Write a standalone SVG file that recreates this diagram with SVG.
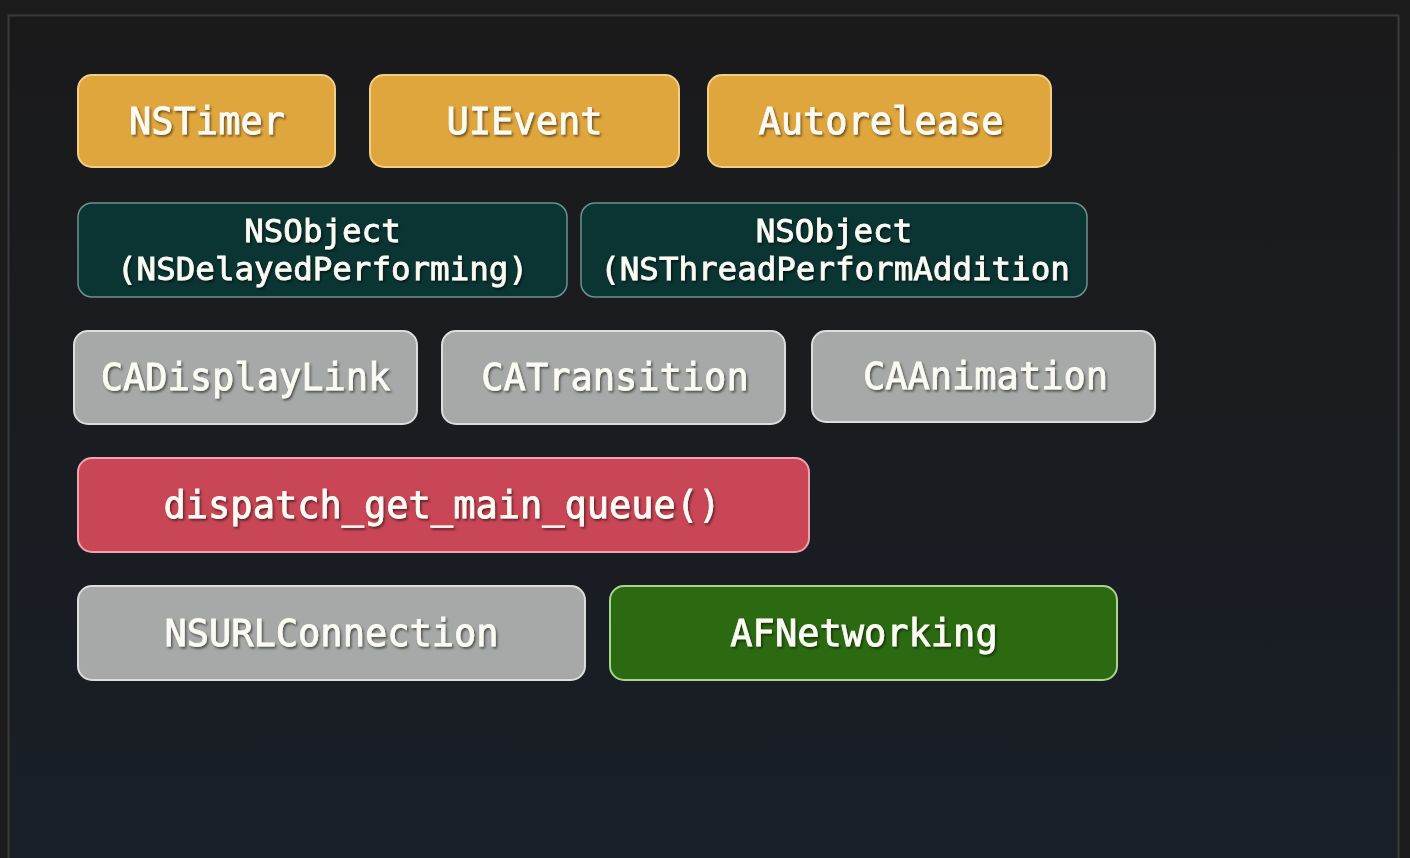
<svg xmlns="http://www.w3.org/2000/svg" width="1410" height="858" viewBox="0 0 1410 858">
<defs>
<linearGradient id="bg" x1="0" y1="0" x2="0" y2="1">
<stop offset="0" stop-color="#1a1a1b"/>
<stop offset="0.45" stop-color="#1a1c20"/>
<stop offset="1" stop-color="#181f27"/>
</linearGradient>
<filter id="sh" x="-10%" y="-30%" width="120%" height="160%">
<feDropShadow dx="1.5" dy="2" stdDeviation="1.3" flood-color="#000" flood-opacity="0.5"/>
</filter>
<style>
.t{font-family:"DejaVu Sans Mono","Liberation Mono",monospace;font-weight:normal;font-size:37px;fill:#fbfbf4;stroke:#fbfbf4;stroke-width:0.8;text-anchor:middle;filter:url(#sh)}
.t2{font-size:32.5px}
.or{fill:#e0a63e;stroke:#f3cf86;stroke-width:2}
.te{fill:#0a3533;stroke:#6f918c;stroke-width:1.5}
.gr{fill:#a6a9a7;stroke:#dcdedd;stroke-width:2}
.rd{fill:#c84656;stroke:#f0a3ad;stroke-width:2}
.gn{fill:#2c6a12;stroke:#a9d58e;stroke-width:2}
</style>
</defs>
<rect x="0" y="0" width="1410" height="858" fill="#1c1c1c"/>
<rect x="8.5" y="15.5" width="1390" height="850" fill="url(#bg)" stroke="#3b3b3b" stroke-width="2"/>
<g id="connectors"/>
<g id="nstimer"><rect class="or" x="78" y="75" width="257" height="92" rx="14"/><text class="t" x="207" y="134">NSTimer</text></g>
<g id="uievent"><rect class="or" x="370" y="75" width="309" height="92" rx="14"/><text class="t" x="524.5" y="134">UIEvent</text></g>
<g id="autorelease"><rect class="or" x="708" y="75" width="343" height="92" rx="14"/><text class="t" x="881" y="134">Autorelease</text></g>
<g id="nsdelayed"><rect class="te" x="78" y="203" width="489" height="94" rx="14"/><text class="t t2" x="322.5" y="242">NSObject</text><text class="t t2" x="322.5" y="280">(NSDelayedPerforming)</text></g>
<g id="nsthread"><rect class="te" x="581" y="203" width="506" height="94" rx="14"/><text class="t t2" x="834" y="242">NSObject</text><text class="t t2" x="835" y="280">(NSThreadPerformAddition</text></g>
<g id="cadisplaylink"><rect class="gr" x="74" y="331" width="343" height="93" rx="14"/><text class="t" x="245.5" y="390">CADisplayLink</text></g>
<g id="catransition"><rect class="gr" x="442" y="331" width="343" height="93" rx="14"/><text class="t" x="615" y="390">CATransition</text></g>
<g id="caanimation"><rect class="gr" x="812" y="331" width="343" height="91" rx="14"/><text class="t" x="985.5" y="389">CAAnimation</text></g>
<g id="dispatch"><rect class="rd" x="78" y="458" width="731" height="94" rx="14"/><text class="t" x="442" y="518">dispatch_get_main_queue()</text></g>
<g id="nsurlconnection"><rect class="gr" x="78" y="586" width="507" height="94" rx="14"/><text class="t" x="331.5" y="646">NSURLConnection</text></g>
<g id="afnetworking"><rect class="gn" x="610" y="586" width="507" height="94" rx="14"/><text class="t" x="864" y="646">AFNetworking</text></g>
</svg>
